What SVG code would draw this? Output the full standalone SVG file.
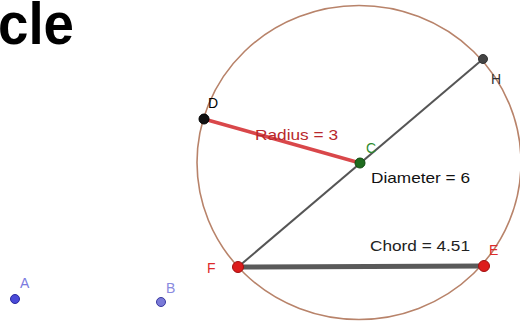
<svg xmlns="http://www.w3.org/2000/svg" width="520" height="323" viewBox="0 0 520 323">
<style>
.lbl{font-family:"Liberation Sans",Arial,sans-serif;font-size:14px}
.val{font-family:"Liberation Sans",Arial,sans-serif;font-size:15px}
.pt{stroke-width:1}
</style>
<rect width="520" height="323" fill="#ffffff"/>
<text x="-2" y="44" font-family="Liberation Sans, Arial, sans-serif" font-weight="bold" font-size="60" fill="#000000" textLength="76" lengthAdjust="spacingAndGlyphs">cle</text>
<g id="circle">
<ellipse cx="359" cy="162.5" rx="162" ry="157" fill="none" stroke="#b8836a" stroke-width="1.6"/>
</g>
<g id="connectors">
<line x1="238" y1="267" x2="483" y2="59" stroke="#555555" stroke-width="2"/>
<line x1="204" y1="119" x2="360" y2="163" stroke="#d9474a" stroke-width="3.5"/>
<line x1="238" y1="267" x2="484" y2="266" stroke="#5a5a5a" stroke-width="5"/>
</g>
<g id="labels">
<text class="val" x="255" y="140" fill="#b8282c" textLength="83" lengthAdjust="spacingAndGlyphs">Radius = 3</text>
<text class="val" x="371" y="183" fill="#111111" textLength="99" lengthAdjust="spacingAndGlyphs">Diameter = 6</text>
<text class="val" x="370" y="251" fill="#222222" textLength="100" lengthAdjust="spacingAndGlyphs">Chord = 4.51</text>
</g>
<g id="node-D">
<circle class="pt" cx="204" cy="119" r="5" fill="#111111" stroke="#000000"/>
<text class="lbl" x="208" y="108" fill="#000000">D</text>
</g>
<g id="node-C">
<circle class="pt" cx="360" cy="163" r="5" fill="#1e6b1e" stroke="#0e4a0e"/>
<text class="lbl" x="366" y="153" fill="#2e8b2e">C</text>
</g>
<g id="node-H">
<circle class="pt" cx="483" cy="59" r="4.5" fill="#444444" stroke="#333333"/>
<text class="lbl" x="491" y="84" fill="#333333">H</text>
</g>
<g id="node-F">
<circle class="pt" cx="238" cy="267" r="5.5" fill="#dd1c1c" stroke="#a01010"/>
<text class="lbl" x="207" y="273" fill="#dd2a2a">F</text>
</g>
<g id="node-E">
<circle class="pt" cx="484" cy="266" r="5.5" fill="#dd1c1c" stroke="#a01010"/>
<text class="lbl" x="489" y="255" fill="#dd2a2a">E</text>
</g>
<g id="node-A">
<circle class="pt" cx="15" cy="299" r="4.5" fill="#4a4ad8" stroke="#2a2aa0"/>
<text class="lbl" x="20" y="288" fill="#7a7ae0">A</text>
</g>
<g id="node-B">
<circle class="pt" cx="161" cy="302" r="4.5" fill="#7a7ad8" stroke="#3a3aa0"/>
<text class="lbl" x="166" y="293" fill="#8a8ae0">B</text>
</g>
</svg>
